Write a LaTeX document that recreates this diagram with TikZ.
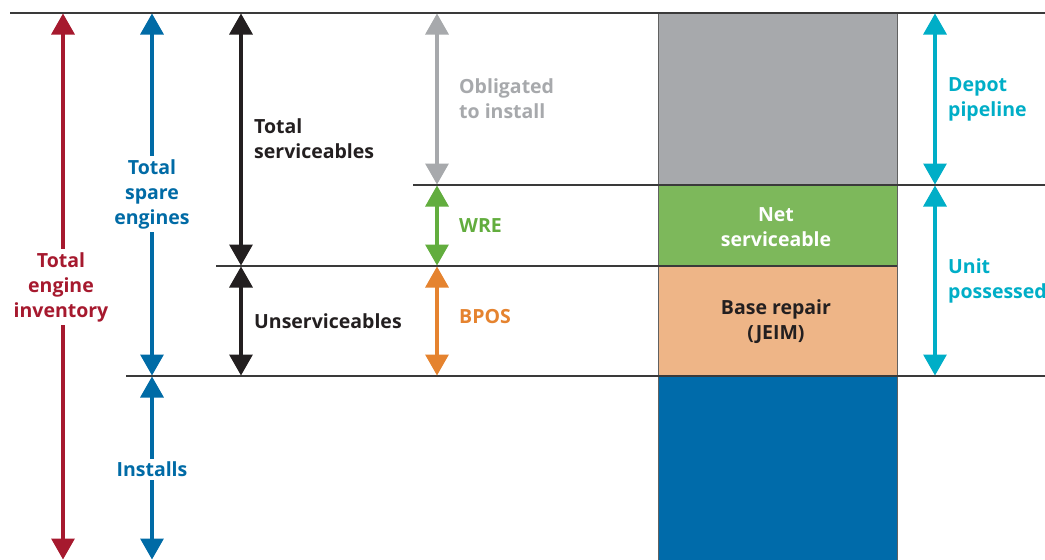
\documentclass[tikz,border=0pt]{standalone}
\usepackage{fontspec}
\setmainfont{Open Sans}
\usetikzlibrary{arrows.meta}
\definecolor{cred}{HTML}{A6192E}
\definecolor{cblue}{HTML}{006BA6}
\definecolor{cblack}{HTML}{231F20}
\definecolor{cgray}{HTML}{A7A9AC}
\definecolor{cgreen}{HTML}{62AD3E}
\definecolor{boxgreen}{HTML}{7DB85B}
\definecolor{corange}{HTML}{E5832F}
\definecolor{boxorange}{HTML}{EEB587}
\definecolor{ccyan}{HTML}{00AEC7}
\definecolor{boxblue}{HTML}{006BAA}
\definecolor{cline}{HTML}{3A3A3A}
\tikzset{
  dimarrow/.style={line width=3.2pt,{Triangle[width=23pt,length=21pt]}-{Triangle[width=23pt,length=21pt]},shorten <=0.5pt,shorten >=0.5pt},
  lbl/.style={font=\fontsize{19.5}{25}\selectfont\bfseries,align=left,anchor=west,inner sep=1pt},
  clbl/.style={font=\fontsize{19.5}{25}\selectfont\bfseries,align=center,fill=white,inner sep=3pt},
  sepline/.style={draw=cline,line width=1.3pt},
  colbox/.style={draw=cline!80,line width=1pt}
}
\begin{document}
\begin{tikzpicture}[x=1pt,y=-1pt]
\clip (0,0) rectangle (1045,560);
\fill[white] (0,0) rectangle (1045,560);
% column boxes
\path[colbox,fill=cgray] (658,13) rectangle (897,185);
\path[colbox,fill=boxgreen] (658,185) rectangle (897,266);
\path[colbox,fill=boxorange] (658,266) rectangle (897,376);
\path[colbox,fill=boxblue] (658,376) rectangle (897,562);
% separator lines
\coordinate (L0a) at (10,13);  \coordinate (L0b) at (1045,13);
\coordinate (L1a) at (413,185); \coordinate (L1b) at (1045,185);
\coordinate (L2a) at (216,266); \coordinate (L2b) at (897,266);
\coordinate (L3a) at (126,376); \coordinate (L3b) at (1045,376);
\draw[sepline] (L0a) -- (L0b);
\draw[sepline] (L1a) -- (L1b);
\draw[sepline] (L2a) -- (L2b);
\draw[sepline] (L3a) -- (L3b);
% arrow end points
\coordinate (rT) at (63,13);  \coordinate (rB) at (63,560);
\coordinate (bT) at (152,13); \coordinate (bM) at (152,376); \coordinate (bB) at (152,560);
\coordinate (kT) at (241,13); \coordinate (kM) at (241,266); \coordinate (kB) at (241,376);
\coordinate (gT) at (437,13); \coordinate (gM1) at (437,185); \coordinate (gM2) at (437,266); \coordinate (gB) at (437,376);
\coordinate (cT) at (935,13); \coordinate (cM) at (935,185); \coordinate (cB) at (935,376);
% arrows
\draw[dimarrow,cred] (rT) -- (rB);
\draw[dimarrow,cblue] (bT) -- (bM);
\draw[dimarrow,cblue] (bM) -- (bB);
\draw[dimarrow,cblack] (kT) -- (kM);
\draw[dimarrow,cblack] (kM) -- (kB);
\draw[dimarrow,cgray] (gT) -- (gM1);
\draw[dimarrow,cgreen] (gM1) -- (gM2);
\draw[dimarrow,corange] (gM2) -- (gB);
\draw[dimarrow,ccyan] (cT) -- (cM);
\draw[dimarrow,ccyan] (cM) -- (cB);
% labels
\node[clbl,text=cred] (tei) at (61,287) {Total\\engine\\inventory};
\node[clbl,text=cblue] (tse) at (152,194) {Total\\spare\\engines};
\node[clbl,text=cblue] (ins) at (152,469) {Installs};
\node[lbl,text=cblack] (tsv) at (253,139) {Total\\serviceables};
\node[lbl,text=cblack] (usv) at (253,321) {Unserviceables};
\node[lbl,text=cgray] (obl) at (458,99) {Obligated\\to install};
\node[lbl,text=cgreen] (wre) at (458,226) {WRE};
\node[lbl,text=corange] (bpos) at (458,317) {BPOS};
\node[lbl,text=ccyan] (dep) at (947,99) {Depot\\pipeline};
\node[lbl,text=ccyan] (unit) at (947,281) {Unit\\possessed};
\node[clbl,fill=none,text=white] (net) at (776,227) {Net\\serviceable};
\node[clbl,fill=none,text=cblack] (base) at (776,322) {Base repair\\(JEIM)};
\end{tikzpicture}
\end{document}
